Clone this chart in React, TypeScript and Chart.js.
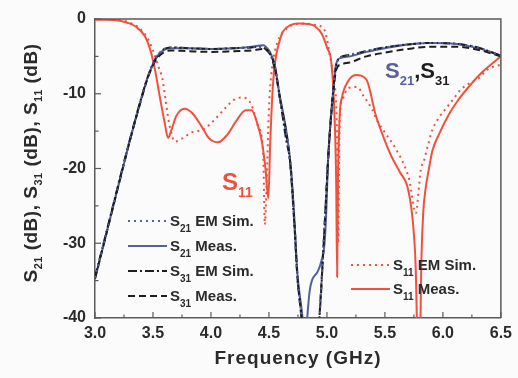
import React, { useEffect, useRef } from "react";
import { Chart, registerables } from "chart.js";

Chart.register(...registerables);

// ---- Data (frequency in GHz, magnitude in dB) ----
const s11MeasFreq = [3.0, 3.1, 3.2, 3.28, 3.35, 3.43, 3.48, 3.52, 3.56, 3.6, 3.63, 3.66, 3.7, 3.77, 3.84, 3.92, 3.98, 4.06, 4.14, 4.22, 4.3, 4.35, 4.4, 4.44, 4.47, 4.495, 4.51, 4.53, 4.55, 4.59, 4.62, 4.69, 4.75, 4.85, 4.9, 4.96, 5.0, 5.04, 5.065, 5.08, 5.088, 5.095, 5.11, 5.13, 5.18, 5.25, 5.34, 5.42, 5.49, 5.56, 5.63, 5.7, 5.74, 5.765, 5.785, 5.8, 5.815, 5.83, 5.85, 5.88, 5.91, 5.97, 6.05, 6.12, 6.2, 6.34, 6.5];
const s11MeasDb = [-0.1, -0.1, -0.2, -0.5, -1.0, -2.3, -4.3, -7.0, -10.5, -13.8, -15.9, -14.8, -13.0, -12.0, -12.6, -14.4, -15.9, -16.5, -15.5, -13.6, -12.2, -12.2, -14.0, -16.5, -20.0, -24.0, -17.0, -10.0, -6.1, -3.0, -1.7, -0.8, -0.6, -0.7, -1.0, -2.1, -3.8, -6.1, -12.8, -22.0, -34.5, -22.0, -13.0, -10.5, -8.4, -7.5, -8.1, -12.8, -15.9, -18.5, -20.5, -22.8, -27.0, -33.0, -45.0, -45.0, -32.0, -26.0, -22.8, -20.0, -17.6, -15.3, -12.8, -11.1, -9.5, -7.1, -5.0];

const s11SimFreq = [3.0, 3.1, 3.2, 3.3, 3.38, 3.45, 3.5, 3.55, 3.58, 3.61, 3.64, 3.69, 3.76, 3.83, 3.93, 3.99, 4.06, 4.13, 4.2, 4.27, 4.35, 4.4, 4.45, 4.465, 4.48, 4.5, 4.52, 4.55, 4.59, 4.66, 4.72, 4.8, 4.9, 4.98, 5.02, 5.06, 5.085, 5.097, 5.11, 5.13, 5.18, 5.26, 5.32, 5.39, 5.43, 5.5, 5.58, 5.67, 5.71, 5.765, 5.81, 5.84, 5.86, 5.88, 5.9, 5.97, 6.03, 6.1, 6.15, 6.23, 6.31, 6.38, 6.5];
const s11SimDb = [0.0, 0.0, -0.1, -0.5, -1.2, -2.5, -4.2, -6.5, -7.9, -11.0, -14.0, -16.4, -15.9, -15.2, -14.8, -14.1, -13.0, -11.8, -10.8, -10.5, -11.5, -14.1, -18.0, -27.5, -22.0, -12.0, -7.5, -4.4, -2.5, -1.2, -0.7, -0.6, -0.8, -1.5, -4.4, -8.4, -14.0, -30.0, -13.5, -11.0, -9.3, -9.1, -10.4, -12.1, -13.5, -15.2, -17.0, -19.7, -21.5, -26.0, -20.1, -18.8, -17.5, -16.4, -15.2, -13.1, -11.9, -10.5, -9.5, -8.6, -7.9, -6.8, -6.1];

const s21MeasFreq = [3.0, 3.1, 3.2, 3.3, 3.4, 3.45, 3.5, 3.55, 3.6, 3.65, 3.8, 4.0, 4.2, 4.35, 4.45, 4.5, 4.52, 4.55, 4.59, 4.65, 4.69, 4.72, 4.745, 4.79, 4.81, 4.83, 4.85, 4.87, 4.92, 4.95, 4.98, 4.995, 5.01, 5.03, 5.05, 5.08, 5.12, 5.2, 5.34, 5.5, 5.7, 5.9, 6.1, 6.3, 6.5];
const s21MeasDb = [-34.8, -28.6, -22.4, -16.3, -10.6, -8.0, -6.0, -4.7, -4.1, -3.9, -3.9, -4.0, -3.9, -3.7, -3.5, -4.2, -4.8, -6.1, -10.0, -15.0, -20.0, -27.0, -34.0, -40.0, -44.0, -40.0, -36.5, -35.0, -33.8, -32.5, -29.9, -25.5, -18.8, -14.0, -10.5, -6.0, -5.2, -5.0, -4.4, -3.9, -3.4, -3.2, -3.3, -3.9, -4.9];

const s21SimFreq = [3.0, 3.1, 3.2, 3.3, 3.4, 3.45, 3.5, 3.55, 3.6, 3.65, 3.8, 4.0, 4.2, 4.35, 4.45, 4.5, 4.52, 4.55, 4.59, 4.65, 4.69, 4.72, 4.745, 4.78, 4.8, 4.92, 4.935, 4.95, 4.965, 4.98, 4.995, 5.01, 5.03, 5.05, 5.08, 5.12, 5.2, 5.34, 5.5, 5.7, 5.9, 6.1, 6.3, 6.5];
const s21SimDb = [-34.6, -28.5, -22.3, -16.2, -10.5, -8.0, -6.0, -4.7, -4.0, -3.8, -3.9, -4.0, -3.9, -3.8, -3.6, -4.3, -4.9, -6.2, -10.1, -15.2, -20.2, -27.2, -34.2, -40.0, -44.0, -44.0, -40.0, -36.0, -32.0, -27.7, -23.2, -18.8, -14.2, -10.4, -6.2, -5.2, -4.8, -4.3, -3.8, -3.4, -3.2, -3.3, -3.8, -4.9];

const s31MeasFreq = [3.0, 3.1, 3.2, 3.3, 3.4, 3.45, 3.5, 3.55, 3.6, 3.65, 3.8, 4.0, 4.2, 4.35, 4.45, 4.5, 4.52, 4.55, 4.59, 4.65, 4.69, 4.72, 4.745, 4.78, 4.8, 4.92, 4.935, 4.95, 4.965, 4.98, 4.995, 5.01, 5.03, 5.05, 5.08, 5.12, 5.2, 5.34, 5.5, 5.7, 5.9, 6.1, 6.3, 6.5];
const s31MeasDb = [-34.7, -28.6, -22.4, -16.3, -10.7, -8.1, -6.2, -5.0, -4.4, -4.2, -4.3, -4.4, -4.3, -4.2, -4.0, -4.5, -5.0, -6.3, -10.2, -15.3, -20.3, -27.4, -34.4, -40.0, -44.0, -44.0, -40.0, -36.0, -32.0, -27.7, -23.2, -18.8, -14.3, -10.6, -6.8, -6.1, -5.8, -5.0, -4.5, -4.0, -3.7, -3.7, -4.1, -5.0];

const s31SimFreq = [3.0, 3.1, 3.2, 3.3, 3.4, 3.45, 3.5, 3.55, 3.6, 3.65, 3.8, 4.0, 4.2, 4.35, 4.42, 4.47, 4.5, 4.53, 4.57, 4.61, 4.65, 4.68, 4.72, 4.745, 4.78, 4.8, 4.92, 4.935, 4.95, 4.965, 4.98, 4.995, 5.01, 5.03, 5.05, 5.08, 5.11, 5.2, 5.34, 5.5, 5.7, 5.9, 6.1, 6.3, 6.5];
const s31SimDb = [-34.5, -28.4, -22.2, -16.2, -10.5, -8.0, -6.0, -4.7, -4.0, -3.8, -3.9, -4.0, -3.9, -3.8, -3.7, -4.0, -4.4, -5.5, -8.2, -12.2, -16.3, -18.8, -27.7, -34.4, -39.7, -44.0, -44.0, -40.0, -36.5, -32.0, -27.7, -23.2, -18.8, -14.0, -10.2, -6.2, -5.2, -4.8, -4.3, -3.8, -3.4, -3.2, -3.3, -3.8, -4.9];

const xTickValues = [3.0, 3.5, 4.0, 4.5, 5.0, 5.5, 6.0, 6.5];
const yTickValues = [0, -10, -20, -30, -40];

// ---- Styles ----
const RED = "#f0513d";
const BLUE = "#56609a";
const BLACK = "#1e1e1e";
const AXIS = "#5a5a5a";
const TEXT = "#2b2b2b";
const FONT = "'Liberation Sans', Arial, Helvetica, sans-serif";

const DOTTED = [2, 4];
const DASHED = [7, 4];
const DASH_DOT = [9, 3, 2, 3];

const zip = (xs: number[], ys: number[]) => xs.map((x, i) => ({ x, y: ys[i] }));

type Part = { t: string; sub?: boolean; color?: string };

function drawRich(
  ctx: CanvasRenderingContext2D,
  x: number,
  y: number,
  parts: Part[],
  mainSize: number,
  subSize: number,
  subDrop: number,
  color: string,
  align: "left" | "center" = "left",
  spacing = 0
) {
  const mainFont = `bold ${mainSize}px ${FONT}`;
  const subFont = `bold ${subSize}px ${FONT}`;
  const c = ctx as any;
  c.letterSpacing = `${spacing}px`;
  let total = 0;
  for (const p of parts) {
    ctx.font = p.sub ? subFont : mainFont;
    total += ctx.measureText(p.t).width;
  }
  let cx = align === "center" ? x - total / 2 : x;
  ctx.textAlign = "left";
  ctx.textBaseline = "alphabetic";
  for (const p of parts) {
    ctx.font = p.sub ? subFont : mainFont;
    ctx.fillStyle = p.color || color;
    ctx.fillText(p.t, cx, p.sub ? y + subDrop : y);
    cx += ctx.measureText(p.t).width;
  }
  c.letterSpacing = "0px";
}

type LegendEntry = { sub: string; label: string; color: string; dash: number[] };

const leftLegend: LegendEntry[] = [
  { sub: "21", label: " EM Sim.", color: BLUE, dash: DOTTED },
  { sub: "21", label: " Meas.", color: BLUE, dash: [] },
  { sub: "31", label: " EM Sim.", color: BLACK, dash: DASH_DOT },
  { sub: "31", label: " Meas.", color: BLACK, dash: DASHED },
];
const rightLegend: LegendEntry[] = [
  { sub: "11", label: " EM Sim.", color: RED, dash: DOTTED },
  { sub: "11", label: " Meas.", color: RED, dash: [] },
];

function drawLegend(
  ctx: CanvasRenderingContext2D,
  entries: LegendEntry[],
  x0: number,
  y0: number,
  rowGap: number
) {
  entries.forEach((e, i) => {
    const y = y0 + i * rowGap;
    ctx.save();
    ctx.strokeStyle = e.color;
    ctx.lineWidth = 2;
    ctx.setLineDash(e.dash);
    ctx.beginPath();
    ctx.moveTo(x0, y);
    ctx.lineTo(x0 + 39, y);
    ctx.stroke();
    ctx.restore();
    drawRich(
      ctx,
      x0 + 42,
      y + 5,
      [{ t: "S" }, { t: e.sub, sub: true }, { t: e.label }],
      15,
      10,
      6,
      TEXT
    );
  });
}

const decorPlugin = {
  id: "decor",
  beforeDraw(chart: any) {
    const { ctx, width, height } = chart;
    ctx.save();
    ctx.fillStyle = "#fbfbfb";
    ctx.fillRect(0, 0, width, height);
    ctx.restore();
  },
  afterDraw(chart: any) {
    const { ctx, chartArea } = chart;
    const xs = chart.scales.x;
    const ys = chart.scales.y;
    const { left, right, top, bottom } = chartArea;

    ctx.save();
    // frame (top and right sides)
    ctx.strokeStyle = AXIS;
    ctx.lineWidth = 1.5;
    ctx.setLineDash([]);
    ctx.beginPath();
    ctx.moveTo(left, top);
    ctx.lineTo(right, top);
    ctx.lineTo(right, bottom);
    ctx.stroke();

    // inward tick marks
    ctx.lineWidth = 1.2;
    for (let f = 3.0; f <= 6.5001; f += 0.25) {
      const px = xs.getPixelForValue(f);
      const major = Math.abs(f * 2 - Math.round(f * 2)) < 1e-6;
      ctx.beginPath();
      ctx.moveTo(px, bottom);
      ctx.lineTo(px, bottom - (major ? 6 : 3.5));
      ctx.stroke();
    }
    for (let v = -40; v <= 0; v += 5) {
      const py = ys.getPixelForValue(v);
      const major = v % 10 === 0;
      ctx.beginPath();
      ctx.moveTo(left, py);
      ctx.lineTo(left + (major ? 6 : 3.5), py);
      ctx.stroke();
    }

    // axis titles
    drawRich(ctx, 298, 364, [{ t: "Frequency (GHz)" }], 19, 11, 5, TEXT, "center", 1);
    ctx.translate(37, 163);
    ctx.rotate(-Math.PI / 2);
    drawRich(
      ctx,
      0,
      0,
      [
        { t: "S" },
        { t: "21", sub: true },
        { t: " (dB), S" },
        { t: "31", sub: true },
        { t: " (dB), S" },
        { t: "11", sub: true },
        { t: " (dB)" },
      ],
      19,
      11,
      5,
      TEXT,
      "center",
      0.5
    );
    ctx.restore();

    ctx.save();
    // in-plot labels
    drawRich(ctx, 222, 190, [{ t: "S" }, { t: "11", sub: true }], 24, 14, 7, RED);
    drawRich(
      ctx,
      385,
      78,
      [
        { t: "S", color: BLUE },
        { t: "21", sub: true, color: BLUE },
        { t: ",", color: BLACK },
        { t: "S", color: BLACK },
        { t: "31", sub: true, color: BLACK },
      ],
      22,
      13,
      7,
      BLACK
    );

    drawLegend(ctx, leftLegend, 128, 221, 25);
    drawLegend(ctx, rightLegend, 351, 265, 24);
    ctx.restore();
  },
};

export default function App() {
  const canvasRef = useRef<HTMLCanvasElement | null>(null);

  useEffect(() => {
    const canvas = canvasRef.current;
    if (!canvas) return;

    const common = { pointRadius: 0, borderWidth: 2, fill: false, cubicInterpolationMode: "monotone" as const };

    const chart = new Chart(canvas, {
      type: "line",
      data: {
        datasets: [
          { label: "S21 EM Sim.", data: zip(s21SimFreq, s21SimDb), borderColor: BLUE, borderDash: DOTTED, ...common },
          { label: "S31 Meas.", data: zip(s31MeasFreq, s31MeasDb), borderColor: BLACK, borderDash: DASHED, ...common },
          { label: "S31 EM Sim.", data: zip(s31SimFreq, s31SimDb), borderColor: BLACK, borderDash: DASH_DOT, ...common },
          { label: "S21 Meas.", data: zip(s21MeasFreq, s21MeasDb), borderColor: BLUE, borderDash: [], ...common },
          { label: "S11 EM Sim.", data: zip(s11SimFreq, s11SimDb), borderColor: RED, borderDash: DOTTED, ...common },
          { label: "S11 Meas.", data: zip(s11MeasFreq, s11MeasDb), borderColor: RED, borderDash: [], ...common },
        ],
      },
      options: {
        animation: false,
        responsive: false,
        devicePixelRatio: 1,
        layout: { padding: { top: 19, right: 16, left: 0, bottom: 0 } },
        plugins: { legend: { display: false }, tooltip: { enabled: false } },
        scales: {
          x: {
            type: "linear",
            min: 3.0,
            max: 6.5,
            afterBuildTicks: (scale: any) => {
              scale.ticks = xTickValues.map((v) => ({ value: v }));
            },
            afterFit: (scale: any) => {
              scale.height = 60;
            },
            grid: { display: false, drawTicks: false },
            border: { display: true, color: AXIS, width: 1.5 },
            ticks: {
              padding: 6,
              color: TEXT,
              font: { family: FONT, size: 16, weight: "bold" },
              maxRotation: 0,
              callback: (v: any) => Number(v).toFixed(1),
            },
          },
          y: {
            type: "linear",
            min: -40,
            max: 0,
            afterBuildTicks: (scale: any) => {
              scale.ticks = yTickValues.map((v) => ({ value: v }));
            },
            afterFit: (scale: any) => {
              scale.width = 95;
            },
            grid: { display: false, drawTicks: false },
            border: { display: true, color: AXIS, width: 1.5 },
            ticks: {
              padding: 9,
              color: TEXT,
              font: { family: FONT, size: 16, weight: "bold" },
              callback: (v: any) => String(v),
            },
          },
        },
      },
      plugins: [decorPlugin],
    } as any);

    return () => chart.destroy();
  }, []);

  return (
    <div style={{ position: "fixed", left: 0, top: 0, width: 518, height: 378, background: "#fbfbfb" }}>
      <canvas ref={canvasRef} width={518} height={378} style={{ width: 518, height: 378, display: "block" }} />
    </div>
  );
}
